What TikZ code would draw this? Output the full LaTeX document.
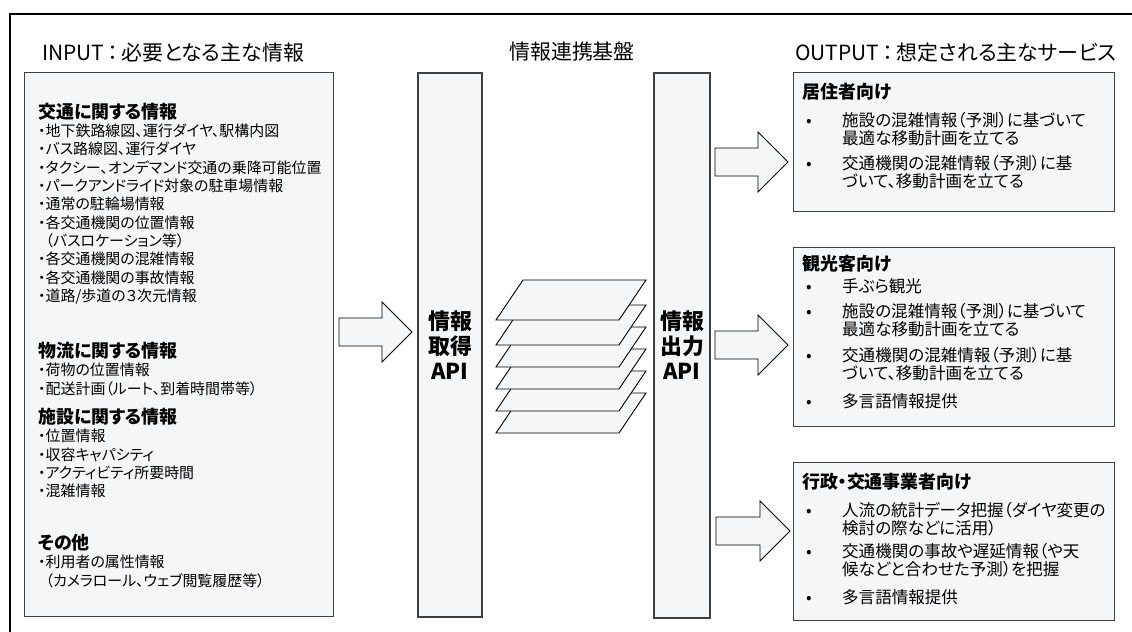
\documentclass[tikz,border=0pt]{standalone}
\usepackage{fontspec}
\setmainfont{Noto Sans CJK JP}[RawFeature=+palt]

\definecolor{panelfill}{HTML}{F5F6F8}
\definecolor{panelline}{HTML}{404040}

\tikzset{
  panel/.style={draw=panelline, fill=panelfill, line width=1.3bp},
  layer/.style={draw=black, fill=panelfill, line width=0.9bp},
  bigarrow/.style={draw=black, fill=panelfill, line width=0.9bp, line join=miter},
  title/.style={inner sep=0, font=\fontsize{21}{24}\selectfont},
  head/.style={anchor=west, inner sep=0, text height=15.8bp, text depth=2.2bp,
    font=\bfseries\fontsize{18}{20}\selectfont},
  initem/.style={anchor=west, inner sep=0, text height=13.2bp, text depth=1.8bp,
    font=\fontsize{15}{18}\selectfont},
  outitem/.style={anchor=west, inner sep=0, text height=14.6bp, text depth=2bp,
    font=\fontsize{16.6}{18}\selectfont},
  apilabel/.style={align=center, font=\bfseries\fontsize{22}{25}\selectfont},
}

% block arrow: tail x, tip x, middle y
\newcommand{\bigarrow}[3]{%
  \draw[bigarrow] (#1,#3-14) -- (#2-30,#3-14) -- (#2-30,#3-30) -- (#2,#3)
    -- (#2-30,#3+30) -- (#2-30,#3+14) -- (#1,#3+14) -- cycle;}

\begin{document}
\begin{tikzpicture}[x=1bp, y=-1bp]

\useasboundingbox (0,0) rectangle (1132,632);
\draw [line width=2.5bp] (1132,14) -- (10,14) -- (10,632);

%titles
\node [title, anchor=west] (intitle) at (42,53) {INPUT\,：\,必要となる主な情報};
\node [title] (midtitle) at (572,52) {情報連携基盤};
\node [title, anchor=west] (outtitle) at (795,53) {OUTPUT\,：\,想定される主なサービス};

%panels
\node [panel, anchor=north west, minimum width=309bp, minimum height=544bp] (inbox) at (24,72) {};
\node [panel, apilabel, minimum width=64bp, minimum height=544bp] (getapi) at (450,345) {情報\\取得\\API};
\node [panel, apilabel, minimum width=56bp, minimum height=545bp] (putapi) at (682,345.5) {情報\\出力\\API};
\node [panel, anchor=north west, minimum width=321bp, minimum height=139bp] (resbox) at (793,72) {};
\node [panel, anchor=north west, minimum width=321bp, minimum height=179bp] (tourbox) at (793,247) {};
\node [panel, anchor=north west, minimum width=321bp, minimum height=158bp] (govbox) at (793,462) {};

%data layers
\foreach \y in {393,371,349,327,305,280}
  \draw [layer] (496,\y+40) -- (619,\y+40) -- (646,\y) -- (523,\y) -- cycle;

%arrows
\bigarrow{339}{412}{332}
\bigarrow{715}{788}{162}
\bigarrow{715}{788}{345}
\bigarrow{716}{790}{531}

%input side
\node [head] (h-traffic) at (38,112) {交通に関する情報};
\foreach \t [count=\i from 0] in {・地下鉄路線図、運行ダイヤ、駅構内図, ・バス路線図、運行ダイヤ,
    ・タクシー、オンデマンド交通の乗降可能位置, ・パークアンドライド対象の駐車場情報,
    ・通常の駐輪場情報, ・各交通機関の位置情報, \phantom{・}（バスロケーション等）,
    ・各交通機関の混雑情報, ・各交通機関の事故情報, {・道路/歩道の３次元情報}}
  \node [initem] (traffic-\i) at (38,131+18.3*\i) {\t};

\node [head] (h-logistics) at (38,351) {物流に関する情報};
\foreach \t [count=\i from 0] in {・荷物の位置情報, ・配送計画（ルート、到着時間帯等）}
  \node [initem] (logistics-\i) at (38,370+18.3*\i) {\t};

\node [head] (h-facility) at (38,417) {施設に関する情報};
\foreach \t [count=\i from 0] in {・位置情報, ・収容キャパシティ, ・アクティビティ所要時間, ・混雑情報}
  \node [initem] (facility-\i) at (38,436+18.3*\i) {\t};

\node [head] (h-other) at (38,543) {その他};
\foreach \t [count=\i from 0] in {・利用者の属性情報, \phantom{・}（カメラロール、ウェブ閲覧履歴等）}
  \node [initem] (other-\i) at (38,562+18.3*\i) {\t};

%output side
\node [head] (h-res) at (802,92) {居住者向け};
\foreach \y/\t in {120/施設の混雑情報（予測）に基づいて, 138/最適な移動計画を立てる,
    163/交通機関の混雑情報（予測）に基, 181/づいて、移動計画を立てる}
  \node [outitem] (res-\y) at (842,\y) {\t};
\foreach \y in {120,163}
  \node [outitem, anchor=center] (resdot-\y) at (809,\y) {•};

\node [head] (h-tour) at (802,264) {観光客向け};
\foreach \y/\t in {286/手ぶら観光, 311/施設の混雑情報（予測）に基づいて, 329/最適な移動計画を立てる,
    355/交通機関の混雑情報（予測）に基, 373/づいて、移動計画を立てる, 401/多言語情報提供}
  \node [outitem] (tour-\y) at (842,\y) {\t};
\foreach \y in {286,311,355,401}
  \node [outitem, anchor=center] (tourdot-\y) at (809,\y) {•};

\node [head] (h-gov) at (802,482) {行政・交通事業者向け};
\foreach \y/\t in {510/人流の統計データ把握（ダイヤ変更の, 528/検討の際などに活用）,
    551/交通機関の事故や遅延情報（や天, 569/候などと合わせた予測）を把握, 597/多言語情報提供}
  \node [outitem] (gov-\y) at (842,\y) {\t};
\foreach \y in {510,551,597}
  \node [outitem, anchor=center] (govdot-\y) at (809,\y) {•};

\end{tikzpicture}
\end{document}
